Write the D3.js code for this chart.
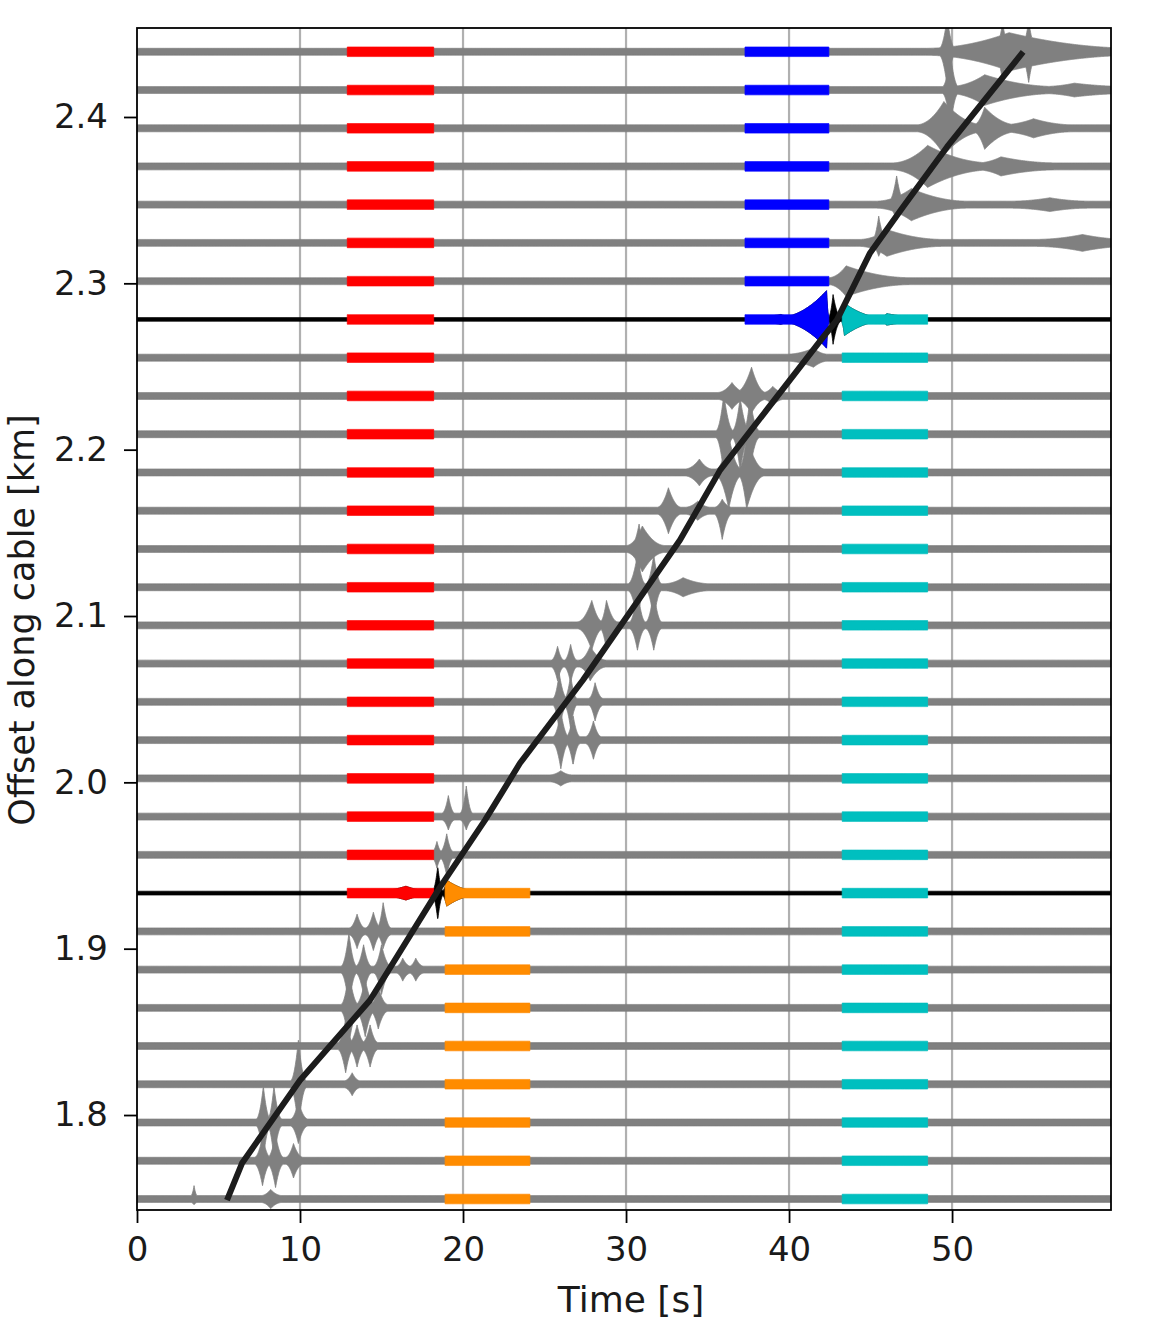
<!DOCTYPE html>
<html>
<head>
<meta charset="utf-8">
<script src="https://cdn.jsdelivr.net/npm/d3@7"></script>
<style>
  html, body { margin: 0; padding: 0; background: #fff; }
  svg { display: block; font-family: "DejaVu Sans", sans-serif; }
</style>
</head>
<body>
<svg id="chart" width="1158" height="1322"></svg>
<script>
// ---------------- DATA ----------------
// Channel offsets along the cable [km], bottom to top
const offsets = [1.7495, 1.7725, 1.7955, 1.8185, 1.8415, 1.8644, 1.8874, 1.9104, 1.9334, 1.9564,
                 1.9794, 2.0024, 2.0254, 2.0484, 2.0714, 2.0944, 2.1173, 2.1403, 2.1633, 2.1863,
                 2.2093, 2.2323, 2.2553, 2.2783, 2.3013, 2.3243, 2.3473, 2.3703, 2.3932, 2.4162, 2.4392];
// Highlighted (black) reference channels
const blackChannels = [1.9334, 2.2783];
// Background noise half-amplitude (in units of channel spacing)
const noiseGray = 0.09;
const noiseBlack = 0.05;
// Envelope bursts, per channel (same order as offsets):
// [start s, peak s, end s, amplitude up, amplitude down(optional)]
const bursts = [
  [[3.3,3.5,3.7,0.35,0.15],[7.6,8.2,8.9,0.25]],
  [[7.2,7.7,8.2,0.65],[8.0,8.5,9.0,0.7],[9.1,9.6,10.2,0.45]],
  [[7.3,7.75,8.2,0.95],[8.0,8.4,8.9,0.95],[9.4,9.9,10.5,0.55]],
  [[9.4,9.9,10.4,1.15],[12.7,13.2,13.7,0.3]],
  [[12.3,12.8,13.3,0.7],[13.0,13.5,14.0,0.55],[13.8,14.3,14.8,0.55]],
  [[12.5,13.0,13.6,0.95],[13.4,14.0,14.6,0.75],[14.3,14.8,15.4,0.55]],
  [[12.5,13.0,13.5,0.95],[13.4,13.9,14.4,0.65],[14.5,15.0,15.6,0.65],[15.9,16.3,16.8,0.3],[16.7,17.1,17.6,0.3]],
  [[13.0,13.5,14.0,0.45],[14.0,14.5,15.0,0.5],[14.7,15.1,15.6,0.75,0.45]],
  [[14.5,16.5,18.2,0.18],[18.1,18.45,18.8,0.7],[18.7,19.0,21.0,0.34]],
  [[18.1,18.4,18.7,0.35],[18.6,19.0,19.4,0.55]],
  [[18.7,19.1,19.5,0.55,0.35],[19.8,20.2,20.6,0.8,0.35]],
  [[25.3,26.0,26.7,0.2]],
  [[25.5,26.0,26.5,0.75],[26.3,26.75,27.2,0.65],[27.5,28.0,28.5,0.5]],
  [[25.5,25.9,26.4,0.75],[26.2,26.6,27.0,0.7],[27.7,28.1,28.6,0.5]],
  [[25.4,25.8,26.2,0.45],[26.2,26.6,27.0,0.5],[27.1,27.8,28.8,0.45]],
  [[27.0,27.9,28.6,0.65],[28.4,28.8,29.5,0.65],[30.2,30.7,31.2,0.95,0.65],[31.2,31.7,32.2,0.9,0.65]],
  [[30.1,30.7,31.2,0.85],[31.2,31.7,32.2,0.85],[32.3,33.5,35.2,0.25]],
  [[30.0,31.0,32.4,0.6],[30.3,30.8,31.2,0.65]],
  [[31.9,32.6,33.4,0.6],[33.6,34.4,35.2,0.25],[35.4,35.9,36.5,0.3,0.75]],
  [[33.6,34.5,35.3,0.35],[35.5,36.3,37.1,0.95],[36.9,37.4,38.5,0.95]],
  [[35.5,36.0,36.6,1.05],[36.5,37.0,37.6,0.95],[37.2,37.6,38.2,0.95]],
  [[35.6,36.5,37.4,0.35],[36.7,37.7,38.6,0.75,0.45],[38.4,39.0,39.7,0.25]],
  [[39.8,41.5,42.4,0.25]],
  [[37.3,39.5,40.5,0.13],[39.3,42.3,42.45,0.75],[42.4,42.7,43.2,0.65],[43.2,43.4,45.8,0.42],[45.5,46.0,48.5,0.15]],
  [[42.4,43.5,47.5,0.4]],
  [[44.3,46.0,49.5,0.35],[45.1,45.5,46.0,0.7,0.35],[55.0,58.0,61.0,0.22]],
  [[45.3,47.5,51.0,0.42],[46.1,46.6,47.1,0.75,0.4],[53.5,56.0,58.5,0.18]],
  [[46.3,48.5,52.5,0.55],[51.5,53.0,56.5,0.25]],
  [[47.8,49.5,52.0,0.7],[51.3,52.0,54.0,0.55],[53.0,55.0,57.5,0.25]],
  [[49.4,49.9,50.4,0.95],[49.8,52.0,56.5,0.4],[55.5,57.5,61.0,0.18]],
  [[49.2,49.7,50.2,0.9],[48.3,53.5,61.5,0.5],[52.6,53.1,53.6,0.75],[54.2,54.7,55.2,0.8]]
];
// Coloured analysis windows: time span [s], channels from..to [km]
const windowColors  = ["#ff0000", "#0000ff", "#00bfbf", "#ff8c00"];
const windowStart   = [12.9, 37.3, 43.25, 18.9];
const windowEnd     = [18.2, 42.45, 48.5, 24.1];
const windowFromKm  = [1.9334, 2.2783, 1.7495, 1.7495];
const windowToKm    = [2.4392, 2.4392, 2.2783, 1.9334];
// Picked arrival curve
const arrivalTime   = [5.52, 6.44, 10.0, 14.29, 18.59, 21.35, 23.50, 27.36, 33.31, 35.77, 42.09, 42.94, 44.97, 46.99, 49.69, 54.36];
const arrivalOffset = [1.7488, 1.7710, 1.8209, 1.8690, 1.9370, 1.9773, 2.0116, 2.0615, 2.1457, 2.1877, 2.2677, 2.2780, 2.3183, 2.3459, 2.3820, 2.4391];
// Axes
const xTicks = [0, 10, 20, 30, 40, 50];
const yTicks = [1.8, 1.9, 2.0, 2.1, 2.2, 2.3, 2.4];
const xDomain = [0, 59.75];
const yDomain = [1.7429, 2.4535];
const channelSpacing = 0.023;

// ---------------- DRAWING ----------------
const svg = d3.select("#chart");
const L = 137, R = 1111, T = 28, B = 1210;
const x = d3.scaleLinear().domain(xDomain).range([L, R]);
const y = d3.scaleLinear().domain(yDomain).range([B, T]);

svg.append("defs").append("clipPath").attr("id", "plotclip")
  .append("rect").attr("x", L).attr("y", T).attr("width", R - L).attr("height", B - T);

// grid
svg.append("g").selectAll("line").data(xTicks.filter(d => d > 0)).join("line")
  .attr("x1", d => x(d)).attr("x2", d => x(d)).attr("y1", T).attr("y2", B)
  .attr("stroke", "#b0b0b0").attr("stroke-width", 2.2);

const plot = svg.append("g").attr("clip-path", "url(#plotclip)");

const times = d3.range(xDomain[0], xDomain[1] + 0.02, 0.02);
const shapePower = 2; // cusp-like burst envelopes

function envelope(list, base, t) {
  let up = base, dn = base;
  for (const b of list) {
    const [t0, tp, t1, a, aDown] = b;
    const ad = aDown === undefined ? a : aDown;
    if (t < t0 || t > t1) continue;
    let f;
    if (t <= tp) f = tp === t0 ? 1 : (t - t0) / (tp - t0);
    else f = t1 === tp ? 1 : (t1 - t) / (t1 - tp);
    f = Math.pow(f, shapePower);
    up = Math.max(up, base + (a - base) * f);
    dn = Math.max(dn, base + (ad - base) * f);
  }
  return [up, dn];
}

const area = d3.area()
  .x(d => x(d.t))
  .y0(d => y(d.off - d.dn * channelSpacing))
  .y1(d => y(d.off + d.up * channelSpacing));

const traces = offsets.map((off, i) => {
  const isBlack = blackChannels.includes(off);
  const base = isBlack ? noiseBlack : noiseGray;
  return {
    off, isBlack,
    pts: times.map(t => { const [up, dn] = envelope(bursts[i], base, t); return {t, off, up, dn}; })
  };
});

// traces
plot.append("g").selectAll("path").data(traces).join("path")
  .attr("d", d => area(d.pts))
  .attr("fill", d => d.isBlack ? "#000" : "#808080")
  .attr("stroke", d => d.isBlack ? "#000" : "#808080")
  .attr("stroke-width", 0.8);

// coloured windows
const minWin = 0.125;
const winG = plot.append("g");
windowColors.forEach((col, w) => {
  const sel = traces.filter(tr => tr.off >= windowFromKm[w] - 1e-6 && tr.off <= windowToKm[w] + 1e-6);
  winG.append("g").selectAll("path").data(sel).join("path")
    .attr("d", tr => area(tr.pts.filter(p => p.t >= windowStart[w] && p.t <= windowEnd[w])
                            .map(p => ({t: p.t, off: p.off, up: Math.max(p.up, minWin), dn: Math.max(p.dn, minWin)}))))
    .attr("fill", col).attr("stroke", col).attr("stroke-width", 0.8);
});

// arrival curve
const arrival = arrivalTime.map((t, i) => [t, arrivalOffset[i]]);
plot.append("path")
  .attr("d", d3.line().x(d => x(d[0])).y(d => y(d[1]))(arrival))
  .attr("fill", "none").attr("stroke", "#1c1c1c").attr("stroke-width", 6)
  .attr("stroke-linejoin", "round");

// frame
svg.append("rect").attr("x", L).attr("y", T).attr("width", R - L).attr("height", B - T)
  .attr("fill", "none").attr("stroke", "#000").attr("stroke-width", 1.8);

// axes
const xAxis = svg.append("g").attr("transform", `translate(0,${B})`)
  .call(d3.axisBottom(x).tickValues(xTicks).tickFormat(d3.format("d")).tickSize(13).tickPadding(14));
const yAxis = svg.append("g").attr("transform", `translate(${L},0)`)
  .call(d3.axisLeft(y).tickValues(yTicks).tickFormat(d3.format(".1f")).tickSize(13).tickPadding(16));
[xAxis, yAxis].forEach(a => {
  a.select(".domain").remove();
  a.selectAll(".tick line").attr("stroke", "#000").attr("stroke-width", 1.8);
  a.selectAll(".tick text").attr("fill", "#1a1a1a").style("font-size", "34px")
    .style("font-family", "'DejaVu Sans', sans-serif");
});

svg.append("text").attr("x", 631).attr("y", 1312)
  .attr("text-anchor", "middle").attr("fill", "#1a1a1a")
  .style("font-size", "36px").text("Time [s]");
svg.append("text")
  .attr("transform", `translate(34,620) rotate(-90)`)
  .attr("text-anchor", "middle").attr("fill", "#1a1a1a")
  .style("font-size", "35px").text("Offset along cable [km]");
</script>
</body>
</html>
